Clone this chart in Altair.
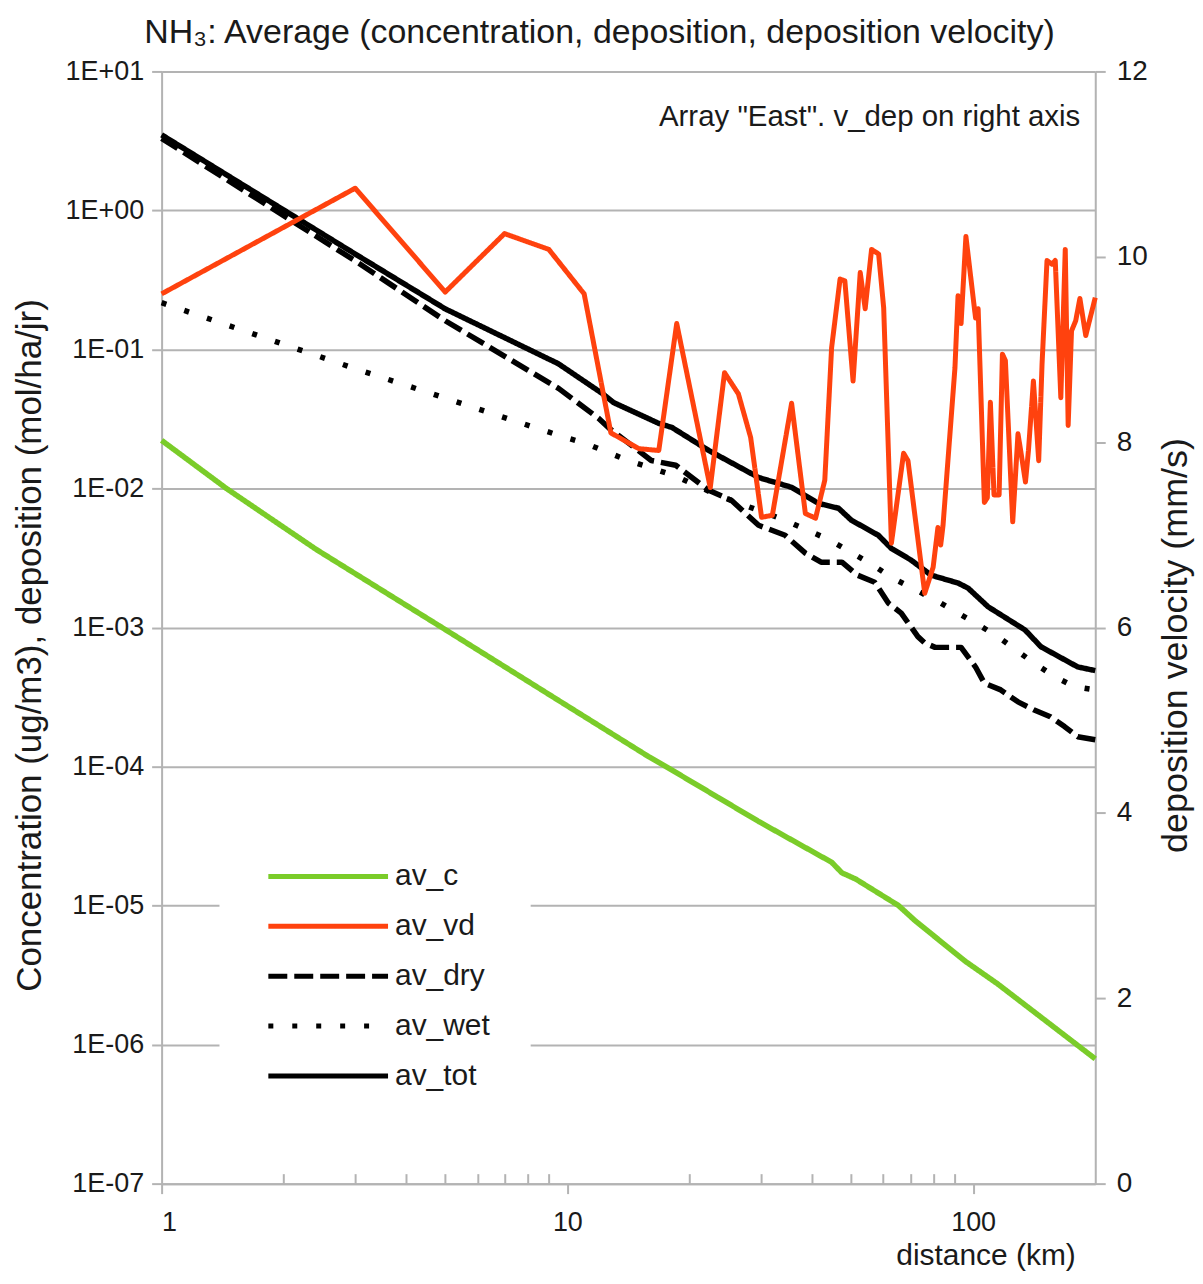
import json
import altair as alt
import pandas as pd

FONT = "Liberation Sans"
TXT = "#1a1a1a"
GRID = "#b3b3b3"

# ---------------- data ----------------
series_names = ["av_c", "av_vd", "av_dry", "av_wet", "av_tot"]
series_colors = ["#7acc29", "#ff420e", "#000000", "#000000", "#000000"]
series_dashes = [[1, 0], [1, 0], [19, 7], [5, 19], [1, 0]]

conc_km = [1, 1.445, 2.41, 4.91, 10, 15.85, 17.5, 29.6, 44.8, 47.5, 51.4, 65.5, 71.9, 95.6, 115, 200]
conc_val = [0.0222, 0.01, 3.63e-3, 1e-3, 2.73e-4, 1.18e-4, 1e-4, 4.03e-5, 2.05e-5, 1.72e-5,
            1.55e-5, 1e-5, 7.8e-6, 3.98e-6, 2.73e-6, 7.9e-7]

dry_km = [1, 3, 5, 9.53, 11.95, 12.7, 16.1, 18.5, 22.3, 25.4, 29.6, 34.4, 38.6, 42.2, 47.5,
          51.9, 57.2, 61.8, 66.5, 73.1, 76.0, 80.6, 93.4, 101.4, 106.6, 117, 129, 141, 155,
          168, 181, 200]
dry_val = [3.30, 0.434, 0.161, 0.0523, 0.0319, 0.027, 0.0159, 0.0147, 0.0097, 0.0082, 0.00544,
           0.00461, 0.00343, 0.00295, 0.00295, 0.00238, 0.00212, 0.0015, 0.00127, 0.00086,
           0.000776, 0.00072, 0.00072, 0.00052, 0.000398, 0.000356, 0.000292, 0.000256,
           0.000228, 0.000194, 0.000164, 0.000156]

wet_km = [1, 2.95, 9.53, 11.1, 14.1, 18.3, 23.5, 34.4, 44.4, 55.7, 62.8, 80.6, 102.9, 115,
          141, 159, 178, 200]
wet_val = [0.217, 0.074, 0.0241, 0.0211, 0.0159, 0.01244, 0.00893, 0.00591, 0.00425, 0.0029,
           0.0023, 0.00158, 0.00105, 0.00086, 0.000557, 0.000443, 0.000375, 0.000356]

tot_km = [1, 3, 5, 9.5, 12.2, 13, 16.8, 18.1, 22.3, 29.6, 35.7, 41.5, 46.6, 50.1, 58.4, 62.8,
          70.4, 78.8, 91.8, 97.2, 108.9, 134.3, 147, 181, 200]
tot_val = [3.5, 0.486, 0.196, 0.079, 0.0482, 0.0415, 0.0294, 0.0275, 0.0188, 0.0120, 0.0102,
           0.00783, 0.00721, 0.00592, 0.00461, 0.00372, 0.00305, 0.00238, 0.00209, 0.00192,
           0.00141, 0.00096, 0.000727, 0.000521, 0.00049]

vd_km = [1, 3, 5, 7, 9, 11, 12.8, 15.0, 16.8, 18.6, 22.5, 24.4, 26.4, 28.3, 30.1, 32.0, 35.7,
         38.6, 40.9, 43.1, 44.8, 47.0, 48.3, 50.6, 52.7, 54.2, 56.2, 58.5, 60.2, 62.9, 67.4,
         69.1, 76.0, 79.7, 81.9, 83.2, 84.3, 90.2, 91.8, 93.4, 96.0, 101.4, 102.9, 106.6, 108.4,
         110.3, 112.6, 115.9, 118.1, 120.1, 125.2, 129.0, 131.3, 134.6, 136.9, 140.8, 145.1,
         147.9, 152.1, 156.5, 159.4, 164.5, 168.7, 171.5, 174.8, 179.0, 183.3, 189.5, 200]
vd_val = [9.60, 10.74, 9.62, 10.25, 10.08, 9.60, 8.10, 7.93, 7.91, 9.28, 7.51, 8.75, 8.52, 8.05,
          7.19, 7.21, 8.42, 7.23, 7.18, 7.59, 9.02, 9.76, 9.74, 8.66, 9.83, 9.44, 10.08, 10.03,
          9.45, 6.91, 7.88, 7.80, 6.37, 6.65, 7.08, 6.89, 7.10, 8.80, 9.58, 9.28, 10.22, 9.34,
          9.44, 7.35, 7.40, 8.43, 7.43, 7.43, 8.95, 8.88, 7.14, 8.09, 7.88, 7.57, 7.91, 8.66,
          7.80, 8.85, 9.96, 9.92, 9.96, 8.48, 10.08, 8.18, 9.20, 9.31, 9.55, 9.15, 9.56]

x_major = [1, 10, 100]
x_minor = [2, 3, 4, 5, 6, 7, 8, 9, 20, 30, 40, 50, 60, 70, 80, 90]
y_tick_vals = [10, 1, 0.1, 0.01, 0.001, 0.0001, 0.00001, 0.000001, 0.0000001]
y_tick_labels = ["1E+01", "1E+00", "1E-01", "1E-02", "1E-03", "1E-04", "1E-05", "1E-06", "1E-07"]
vd_ticks = [0, 2, 4, 6, 8, 10, 12]

title_text = "NH\u2083: Average (concentration, deposition, deposition velocity)"
note_text = ['Array "East". v_dep on right axis']

# ---------------- tables ----------------
rows = []
for name, kms, vals in [("av_c", conc_km, conc_val), ("av_dry", dry_km, dry_val),
                        ("av_wet", wet_km, wet_val), ("av_tot", tot_km, tot_val)]:
    for k, v in zip(kms, vals):
        rows.append({"km": k, "value": v, "series": name})
left_df = pd.DataFrame(rows)
vd_df = pd.DataFrame({"km": vd_km, "value": vd_val, "series": ["av_vd"] * len(vd_km)})
note_df = pd.DataFrame({"t": note_text})

W, H = 936, 1115

xscale = alt.Scale(type="log", domain=[1, 200], nice=False)
color_scale = alt.Scale(domain=series_names, range=series_colors)
dash_scale = alt.Scale(domain=series_names, range=series_dashes)

legend = alt.Legend(
    title=None, orient="none", legendX=58, legendY=752,
    symbolType="M-6,0H6", symbolSize=400, symbolStrokeWidth=5,
    symbolOffset=54, labelOffset=52, labelFontSize=30, labelFont=FONT,
    labelColor=TXT, rowPadding=20, padding=40, fillColor="white",
)

y_label_expr = f"{json.dumps(y_tick_labels)}[indexof({json.dumps(y_tick_vals)}, datum.value)]"

left = alt.Chart(left_df).mark_line(strokeWidth=5.5, strokeCap="butt", strokeJoin="round").encode(
    x=alt.X("km:Q", scale=xscale, axis=alt.Axis(
        orient="bottom", values=x_major, format="d", grid=False,
        tickSize=10, tickWidth=2, tickColor=GRID, domainColor=GRID, domainWidth=2,
        labelFont=FONT, labelFontSize=27, labelColor=TXT, labelPadding=16,
        title="distance (km)", titleFont=FONT, titleFontSize=30, titleFontWeight="normal",
        titleColor=TXT, titleAnchor="end", titleAlign="right", titleBaseline="alphabetic",
        titleX=916, titleY=81)),
    y=alt.Y("value:Q", scale=alt.Scale(type="log", domain=[1e-7, 10], nice=False),
            axis=alt.Axis(
                orient="left", values=y_tick_vals, labelExpr=y_label_expr,
                grid=True, gridColor=GRID, gridWidth=2,
                tickSize=10, tickWidth=2, tickColor=GRID, domainColor=GRID, domainWidth=2,
                labelFont=FONT, labelFontSize=27, labelColor=TXT, labelPadding=8,
                title="Concentration (ug/m3), deposition (mol/ha/jr)", titleFont=FONT,
                titleFontSize=35, titleFontWeight="normal", titleColor=TXT,
                titleAngle=270, titleAlign="center", titleBaseline="alphabetic",
                titleX=-121, titleY=575)),
    color=alt.Color("series:N", scale=color_scale, legend=legend),
    strokeDash=alt.StrokeDash("series:N", scale=dash_scale, legend=legend),
)

red = alt.Chart(vd_df).mark_line(strokeWidth=5, strokeJoin="round").encode(
    x=alt.X("km:Q", scale=xscale, axis=alt.Axis(
        orient="bottom", values=x_minor, labels=False, domain=False, grid=False,
        tickSize=10, tickWidth=2, tickColor=GRID, offset=-10, title=None)),
    y=alt.Y("value:Q", scale=alt.Scale(domain=[0, 12], nice=False),
            axis=alt.Axis(
                orient="right", values=vd_ticks, grid=False,
                tickSize=10, tickWidth=2, tickColor=GRID, domainColor=GRID, domainWidth=2,
                labelFont=FONT, labelFontSize=28, labelColor=TXT, labelPadding=11,
                title="deposition velocity (mm/s)", titleFont=FONT, titleFontSize=36,
                titleFontWeight="normal", titleColor=TXT, titleAngle=270,
                titleAlign="center", titleBaseline="alphabetic", titleX=91, titleY=575)),
    color=alt.Color("series:N", scale=color_scale, legend=legend),
    strokeDash=alt.StrokeDash("series:N", scale=dash_scale, legend=legend),
)

note = alt.Chart(note_df).mark_text(
    align="right", baseline="alphabetic", font=FONT, fontSize=29.5, color=TXT
).encode(x=alt.value(921), y=alt.value(55), text="t:N")

chart = alt.layer(left, red, note).resolve_scale(
    y="independent"
).resolve_axis(
    x="independent"
).properties(
    width=W, height=H,
    autosize=alt.AutoSizeParams(type="none"),
    padding={"left": 154, "top": 62, "right": 100, "bottom": 90},
    title=alt.TitleParams(text=title_text, font=FONT, fontSize=34, fontWeight="normal",
                          color=TXT, anchor="middle", dx=-29, offset=8),
).configure_view(strokeWidth=0).configure(background="white")

chart.save("out.html", embed_options={"renderer": "svg", "actions": False})
